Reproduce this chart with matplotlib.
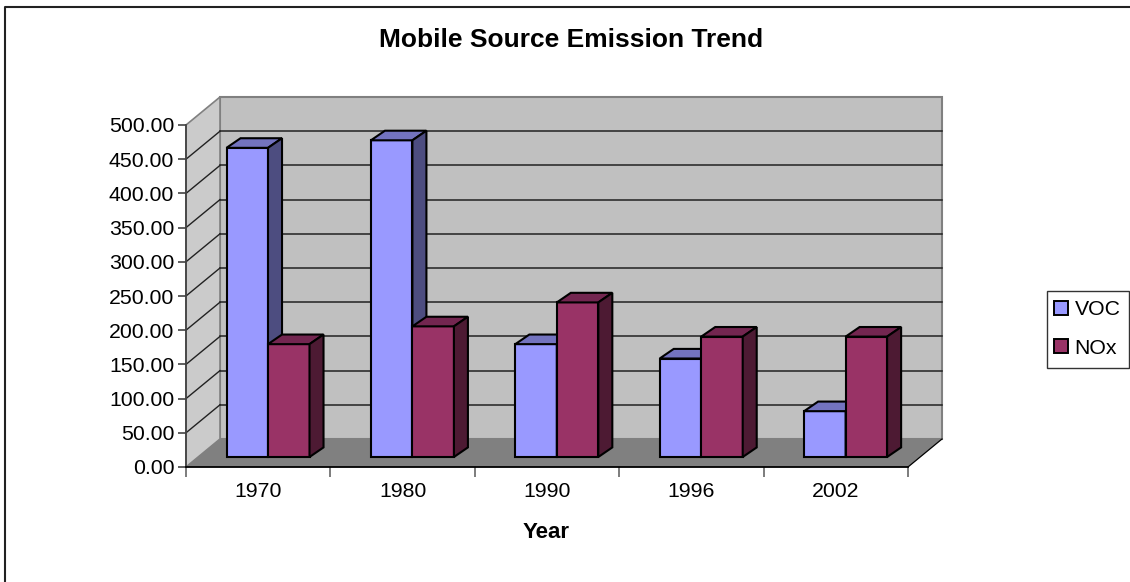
import numpy as np
import matplotlib
matplotlib.use("Agg")
import matplotlib.pyplot as plt
from matplotlib.lines import Line2D
from matplotlib.patches import Polygon, Rectangle

plt.rcParams["font.family"] = ["Liberation Sans", "DejaVu Sans"]

# data
years = ["1970", "1980", "1990", "1996", "2002"]
voc = [452, 463, 165, 144, 67]
nox = [165, 191, 226, 176, 176]
yticks = [0, 50, 100, 150, 200, 250, 300, 350, 400, 450, 500]

W, H = 1130, 582
fig = plt.figure(figsize=(W / 100, H / 100), dpi=100, facecolor="white")

# outer frame only shows on the top and left
fig.add_artist(Line2D([4.5 / W, 4.5 / W, 1], [0, 1 - 6.5 / H, 1 - 6.5 / H], transform=fig.transFigure,
                      color="#222222", lw=1.5))

# axes sit on the front plane of the fake 3d box
ax = fig.add_axes([186 / W, (H - 467) / H, 722 / W, 342 / H], facecolor="none")
ax.set_xlim(0, 5)
ax.set_ylim(0, 500)

# depth of the box and of the bars, in data units
wall_dx, wall_dy = 34 / 144.4, 28 / 0.684
bar_dx, bar_dy = 14 / 144.4, 9.6 / 0.684
base = 10 / 0.684
bar_w = 41.5 / 144.4
centers = np.arange(5) + 0.568

# walls and floor
ax.add_patch(Polygon([(wall_dx, wall_dy), (5 + wall_dx, wall_dy), (5 + wall_dx, 500 + wall_dy),
                      (wall_dx, 500 + wall_dy)], fc="#C0C0C0", ec="#808080", lw=1.5,
                     clip_on=False, zorder=1))
ax.add_patch(Polygon([(0, 0), (wall_dx, wall_dy), (wall_dx, 500 + wall_dy), (0, 500)],
                     fc="#CBCBCB", ec="#808080", lw=1.2, clip_on=False, zorder=1))
ax.add_patch(Polygon([(0, 0), (wall_dx, wall_dy), (5 + wall_dx, wall_dy), (5, 0)],
                     fc="#808080", ec="none", clip_on=False, zorder=1))
ax.plot([5, 5 + wall_dx], [0, wall_dy], color="black", lw=0.9, clip_on=False, zorder=1.2)

# gridlines on back and side walls
for t in yticks[1:-1]:
    ax.plot([wall_dx, 5 + wall_dx], [t + wall_dy] * 2, color="#222222", lw=1.1, clip_on=False, zorder=2)
    ax.plot([0, wall_dx], [t, t + wall_dy], color="#222222", lw=1, clip_on=False, zorder=2)


def draw_bars(xs, values, front, top, side):
    for x, v in zip(xs, values):
        ax.bar(x, v, bar_w, bottom=base, align="edge", fc=front, ec="black", lw=1.5, zorder=3)
        y1 = base + v
        ax.add_patch(Polygon([(x, y1), (x + bar_dx, y1 + bar_dy), (x + bar_w + bar_dx, y1 + bar_dy),
                              (x + bar_w, y1)], fc=top, ec="black", lw=1.5, clip_on=False, zorder=3))
        ax.add_patch(Polygon([(x + bar_w, base), (x + bar_w + bar_dx, base + bar_dy),
                              (x + bar_w + bar_dx, y1 + bar_dy), (x + bar_w, y1)],
                             fc=side, ec="black", lw=1.5, clip_on=False, zorder=3))


draw_bars(centers - bar_w, voc, "#9999FF", "#7373BF", "#4D4D80")
draw_bars(centers, nox, "#993366", "#732650", "#4D1A33")

# axes
for s in ["top", "right"]:
    ax.spines[s].set_visible(False)
ax.spines["left"].set_color("#444444")
ax.spines["left"].set_linewidth(1.3)
ax.spines["bottom"].set_linewidth(1.3)
ax.set_yticks(yticks)
ax.set_yticklabels(["%.2f" % t for t in yticks], fontsize=15.3)
ax.tick_params(axis="y", length=6, width=1.1, color="#333333", pad=2.5)
ax.set_xticks(np.arange(6))
ax.set_xticklabels([])
ax.tick_params(axis="x", which="major", length=7, width=1.2, color="#666666")
ax.set_xticks(np.arange(5) + 0.5, minor=True)
ax.set_xticklabels(years, minor=True, fontsize=15.3)
ax.tick_params(axis="x", which="minor", length=0, pad=11)

fig.text(571 / W, 1 - 40 / H, "Mobile Source Emission Trend", ha="center", va="center",
         fontsize=19, fontweight="bold")
fig.text(546 / W, 1 - 533 / H, "Year", ha="center", va="center", fontsize=16, fontweight="bold")

# legend: frame drawn apart so its padding can differ from the entry padding
fig.add_artist(Rectangle((1046.5 / W, 1 - 368 / H), 82.5 / W, 77 / H, transform=fig.transFigure,
                         fc="white", ec="#333333", lw=1))
handles = [Rectangle((0, 0), 1, 1, fc="#9999FF", ec="black", lw=1.4),
           Rectangle((0, 0), 1, 1, fc="#993366", ec="black", lw=1.4)]
leg = fig.legend(handles, ["VOC", "NOx"], loc="center", bbox_to_anchor=(1087.5 / W, 1 - 329 / H),
                 fontsize=15.3, frameon=False, borderaxespad=0, borderpad=0,
                 handlelength=0.66, handleheight=0.66, handletextpad=0.3, labelspacing=0.9)

plt.savefig("out.png", dpi=100)
